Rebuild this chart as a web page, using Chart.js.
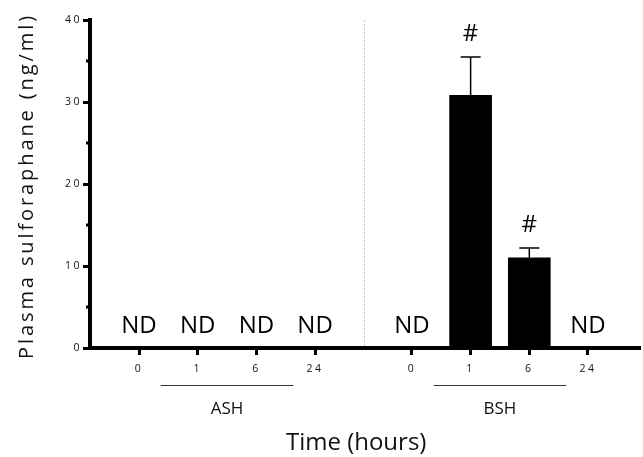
<!DOCTYPE html>
<html>
<head>
<meta charset="utf-8">
<script src="https://cdn.jsdelivr.net/npm/chart.js@4.4.0/dist/chart.umd.min.js"></script>
<style>
  body { margin: 0; background: #fff; }
</style>
</head>
<body>
<canvas id="sfChart" width="643" height="457"></canvas>
<script>
// data (ND = not detected -> null)
const timeLabels = ['0', '1', '6', '24'];
const groupNames = ['ASH', 'BSH'];
const ashPos = [0, 1, 2, 3];
const bshPos = [4.65, 5.65, 6.65, 7.65];
const ashMean = [null, null, null, null];
const ashSem = [null, null, null, null];
const ashMarks = ['', '', '', ''];
const bshMean = [null, 30.8, 11.0, null];
const bshSem = [null, 4.7, 1.2, null];
const bshMarks = ['', '#', '#', ''];
const yTicks = [0, 10, 20, 30, 40];
const yMinor = [5, 15, 25, 35];

const fam = "'Open Sans', 'DejaVu Sans', sans-serif";

function toPoints(pos, vals) {
    return pos.map((p, i) => ({x: p, y: vals[i]}));
}

const extras = {
    id: 'extras',
    beforeDraw(chart) {
        // spaced-out tick digits like the original
        chart.ctx.letterSpacing = '2.5px';
    },
    beforeDatasetsDraw(chart) {
        chart.ctx.letterSpacing = '0px';
    },
    afterDatasetsDraw(chart) {
        const ctx = chart.ctx;
        const x = chart.scales.x, y = chart.scales.y;
        const sets = [[ashPos, ashMean, ashSem, ashMarks], [bshPos, bshMean, bshSem, bshMarks]];
        ctx.save();
        ctx.fillStyle = '#000';
        ctx.strokeStyle = '#000';
        ctx.textAlign = 'center';
        ctx.textBaseline = 'alphabetic';
        sets.forEach(([pos, mean, sem, marks]) => {
            pos.forEach((p, i) => {
                const px = x.getPixelForValue(p);
                if (mean[i] == null) {
                    ctx.font = '24px ' + fam;
                    ctx.fillText('ND', px, y.getPixelForValue(0) - 15);
                    return;
                }
                const yb = y.getPixelForValue(mean[i]);
                const yt = y.getPixelForValue(mean[i] + (sem[i] || 0));
                ctx.lineWidth = 1.5;
                ctx.beginPath();
                ctx.moveTo(px, yb);
                ctx.lineTo(px, yt);
                ctx.moveTo(px - 10, yt);
                ctx.lineTo(px + 10, yt);
                ctx.stroke();
                if (marks[i]) {
                    ctx.font = '24px ' + fam;
                    ctx.fillText(marks[i], px, yt - 16);
                }
            });
        });
        ctx.restore();
    },
    afterDraw(chart) {
        const ctx = chart.ctx;
        const area = chart.chartArea;
        const x = chart.scales.x, y = chart.scales.y;
        ctx.save();

        // dotted divider between the two groups
        const dx = Math.round(x.getPixelForValue((ashPos[3] + bshPos[0]) / 2)) + 0.5;
        ctx.strokeStyle = '#c8c8c8';
        ctx.lineWidth = 1;
        ctx.setLineDash([2, 2]);
        ctx.beginPath();
        ctx.moveTo(dx, area.top);
        ctx.lineTo(dx, area.bottom - 2);
        ctx.stroke();
        ctx.setLineDash([]);

        // minor y ticks
        ctx.strokeStyle = '#000';
        ctx.lineWidth = 3;
        yMinor.forEach(v => {
            const py = y.getPixelForValue(v);
            ctx.beginPath();
            ctx.moveTo(area.left - 4, py);
            ctx.lineTo(area.left, py);
            ctx.stroke();
        });

        // group brackets + names
        ctx.strokeStyle = '#333';
        ctx.lineWidth = 1;
        ctx.fillStyle = '#111';
        ctx.textAlign = 'center';
        ctx.textBaseline = 'middle';
        ctx.font = '17px ' + fam;
        [ashPos, bshPos].forEach((pos, g) => {
            const mid = (pos[1] + pos[2]) / 2;
            const x0 = x.getPixelForValue(mid - 1.13);
            const x1 = x.getPixelForValue(mid + 1.13);
            const ly = area.bottom + 37.5;
            ctx.beginPath();
            ctx.moveTo(x0, ly);
            ctx.lineTo(x1, ly);
            ctx.stroke();
            ctx.fillText(groupNames[g], x.getPixelForValue(mid), area.bottom + 61);
        });

        // x title
        ctx.font = '24px ' + fam;
        ctx.textBaseline = 'alphabetic';
        ctx.fillText('Time (hours)', x.getPixelForValue(3.7), 450);

        // y title, letter spaced
        ctx.translate(33, 186);
        ctx.rotate(-Math.PI / 2);
        ctx.letterSpacing = '2.9px';
        ctx.font = '20px ' + fam;
        ctx.fillText('Plasma sulforaphane (ng/ml)', 0, 0);
        ctx.restore();
    }
};

const ctx = document.getElementById('sfChart');
new Chart(ctx, {
    type: 'bar',
    data: {
        datasets: [{
            label: 'ASH',
            data: toPoints(ashPos, ashMean),
            backgroundColor: '#000',
            borderWidth: 0
        }, {
            label: 'BSH',
            data: toPoints(bshPos, bshMean),
            backgroundColor: '#000',
            borderWidth: 0
        }]
    },
    options: {
        responsive: false,
        animation: false,
        devicePixelRatio: 1,
        grouped: false,
        barThickness: 42,
        layout: {padding: {top: 20, right: 3, left: 0, bottom: 0}},
        plugins: {
            legend: {display: false},
            tooltip: {enabled: false}
        },
        scales: {
            x: {
                type: 'linear',
                min: -0.835,
                max: 8.536,
                offset: false,
                afterBuildTicks: s => { s.ticks = ashPos.concat(bshPos).map(v => ({value: v})); },
                afterFit: s => { s.height = 109; },
                ticks: {
                    autoSkip: false,
                    maxRotation: 0,
                    padding: 8,
                    color: '#111',
                    font: {size: 10.5, family: fam},
                    callback: (v, i) => timeLabels[i % timeLabels.length]
                },
                grid: {offset: false, drawOnChartArea: false, tickLength: 7, tickWidth: 3, tickColor: '#000'},
                border: {color: '#000', width: 4}
            },
            y: {
                min: 0,
                max: 40,
                afterBuildTicks: s => { s.ticks = yTicks.map(v => ({value: v})); },
                afterFit: s => { s.width = 90; },
                ticks: {
                    padding: 1,
                    color: '#111',
                    font: {size: 10.5, family: fam}
                },
                grid: {drawOnChartArea: false, tickLength: 7, tickWidth: 3, tickColor: '#000'},
                border: {color: '#000', width: 4}
            }
        }
    },
    plugins: [extras]
});
</script>
</body>
</html>
